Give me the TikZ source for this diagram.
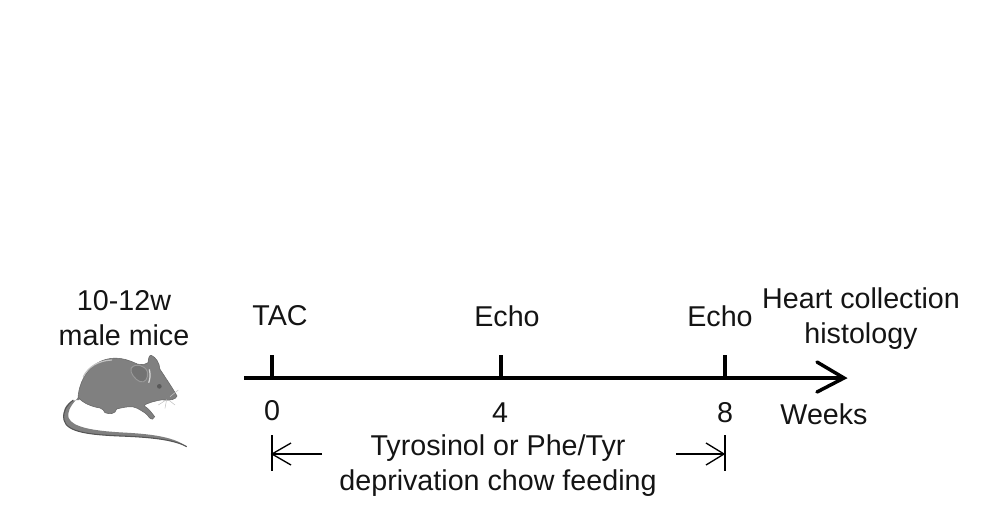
\documentclass[tikz,border=0pt]{standalone}
\usepackage{fontspec}
\setmainfont{Liberation Sans}
\definecolor{mousegray}{RGB}{128,128,128}
\definecolor{mousedark}{RGB}{85,85,85}
\definecolor{mouselight}{RGB}{195,195,195}
\tikzset{
  px/.style={x=0.75pt,y=-0.75pt},
  lbl/.style={font=\fontsize{21.5}{26.25}\selectfont,align=center,text=black!92,inner sep=0pt},
  axisline/.style={line width=2.6pt},
  tickline/.style={line width=2.4pt},
  thinline/.style={line width=1pt},
  mz/.style={shift={(50,340)},x=0.25pt,y=-0.25pt}
}
\begin{document}
\begin{tikzpicture}[px]
\useasboundingbox (0,0) rectangle (987,518);
% labels
\node[lbl] (age) at (124,318) {10-12w\\male mice};
\node[lbl] (tac) at (280,316) {TAC};
\node[lbl] (echoa) at (507,316) {Echo};
\node[lbl] (echob) at (720,316) {Echo};
\node[lbl] (heart) at (861,319) {Heart collection\\histology};
\node[lbl] (n0) at (272,411) {0};
\node[lbl] (n4) at (500,413) {4};
\node[lbl] (n8) at (725,413) {8};
\node[lbl] (weeks) at (824,414) {Weeks};
\node[lbl] (chow) at (498,466) {Tyrosinol or Phe/Tyr\\deprivation chow feeding};
% axis
\coordinate (axs) at (244,378);
\coordinate (axe) at (844,378);
\coordinate (t0) at (272,378);
\coordinate (t0u) at (272,355);
\coordinate (t4) at (501,378);
\coordinate (t4u) at (501,355);
\coordinate (t8) at (725,378);
\coordinate (t8u) at (725,355);
\draw[axisline] (axs) -- (axe);
\draw[axisline,line cap=round,line join=miter] (817,362) -- (844,378) -- (817,392);
\draw[tickline] (t0u) -- (t0);
\draw[tickline] (t4u) -- (t4);
\draw[tickline] (t8u) -- (t8);
% brackets
\coordinate (b0a) at (272,435);
\coordinate (b0b) at (272,471);
\coordinate (b8a) at (725,435);
\coordinate (b8b) at (725,471);
\coordinate (al) at (272,454);
\coordinate (alb) at (322,454);
\coordinate (ar) at (724,454);
\coordinate (arb) at (676,454);
\draw[thinline] (b0a) -- (b0b);
\draw[thinline] (b8a) -- (b8b);
\draw[thinline] (alb) -- (al);
\draw[thinline] (291,443) -- (al) -- (291,465);
\draw[thinline] (arb) -- (ar);
\draw[thinline] (706,443) -- (ar) -- (706,465);
% mouse
\begin{scope}[mz]
\fill[mousegray]
  (92,165) .. controls (68,188) and (50,212) .. (56,234)
  .. controls (68,262) and (130,272) .. (210,277)
  .. controls (290,281) and (370,288) .. (410,320)
  .. controls (370,297) and (290,291) .. (210,288)
  .. controls (120,284) and (50,277) .. (42,240)
  .. controls (34,205) and (56,178) .. (88,180) -- cycle;
\draw[mousedark,line width=0.8pt] (70,180) .. controls (50,195) and (37,215) .. (42,240)
  .. controls (50,277) and (120,284) .. (210,288)
  .. controls (290,291) and (370,297) .. (410,320);
\fill[mousegray,draw=mousegray!80!black,line width=0.4pt]
  (84,172) .. controls (88,120) and (120,62) .. (185,55)
  .. controls (215,52) and (240,62) .. (262,72)
  .. controls (280,76) and (288,72) .. (294,68)
  .. controls (295,55) and (298,44) .. (304,46)
  .. controls (318,52) and (328,68) .. (330,88)
  .. controls (348,115) and (368,145) .. (381,168)
  .. controls (378,178) and (360,182) .. (345,180)
  .. controls (330,178) and (316,184) .. (306,186)
  .. controls (296,190) and (284,192) .. (283,198)
  .. controls (296,205) and (306,220) .. (314,230)
  .. controls (312,238) and (305,240) .. (298,233)
  .. controls (292,222) and (280,215) .. (262,205)
  .. controls (248,197) and (228,200) .. (200,207)
  .. controls (196,222) and (180,224) .. (165,218)
  .. controls (160,210) and (158,206) .. (150,204)
  .. controls (125,200) and (100,190) .. (84,172) -- cycle;
\draw[mouselight,line width=0.9pt,line cap=round] (100,110) .. controls (115,80) and (145,62) .. (185,60);
\fill[mousegray!90!black,draw=mousedark!60!white,line width=0.7pt] (243,85) .. controls (255,68) and (285,75) .. (292,95)
  .. controls (296,115) and (285,130) .. (270,125) .. controls (255,118) and (240,100) .. (243,85) -- cycle;
\draw[white!85!black,line width=0.9pt] (298,88) .. controls (302,105) and (300,118) .. (296,128);
\fill[black!65] (328,139) circle (7);
\draw[mouselight,line width=0.4pt] (350,178) -- (345,205) (356,180) -- (375,195) (345,182) -- (325,195) (360,170) -- (385,150);
\end{scope}
\end{tikzpicture}
\end{document}
